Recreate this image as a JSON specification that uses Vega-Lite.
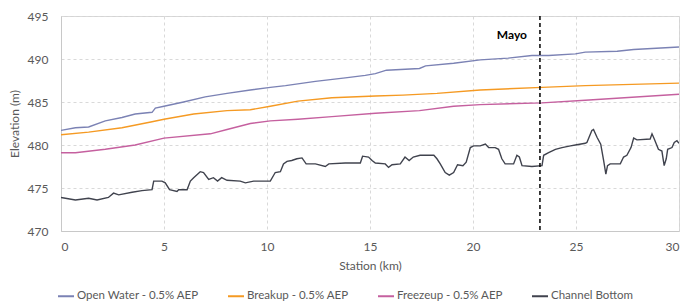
{
  "$schema": "https://vega.github.io/schema/vega-lite/v6.json",
  "width": 618,
  "height": 215,
  "autosize": {"type": "none"},
  "padding": {"left": 61, "top": 16, "right": 14, "bottom": 72},
  "config": {
    "font": "Lato",
    "view": {"stroke": "#d4d4d4", "strokeWidth": 1},
    "axis": {
      "domainColor": "#c8c8c8",
      "ticks": false,
      "labelColor": "#595959",
      "labelFontSize": 12,
      "titleColor": "#595959",
      "titleFontSize": 12,
      "titleFontWeight": "normal",
      "gridColor": "#d9d9d9",
      "gridDash": [3, 3],
      "gridWidth": 1
    },
    "legend": {
      "labelColor": "#595959",
      "labelFontSize": 11.5
    }
  },
  "datasets": {
    "lines": [
      {"s": "Open Water - 0.5% AEP", "km": 0, "elev": 481.7},
      {"s": "Open Water - 0.5% AEP", "km": 0.7, "elev": 482.0},
      {"s": "Open Water - 0.5% AEP", "km": 1.34, "elev": 482.1},
      {"s": "Open Water - 0.5% AEP", "km": 2.15, "elev": 482.8},
      {"s": "Open Water - 0.5% AEP", "km": 2.96, "elev": 483.2},
      {"s": "Open Water - 0.5% AEP", "km": 3.6, "elev": 483.6},
      {"s": "Open Water - 0.5% AEP", "km": 4.42, "elev": 483.8},
      {"s": "Open Water - 0.5% AEP", "km": 4.58, "elev": 484.3},
      {"s": "Open Water - 0.5% AEP", "km": 5.0, "elev": 484.5},
      {"s": "Open Water - 0.5% AEP", "km": 5.95, "elev": 485.0},
      {"s": "Open Water - 0.5% AEP", "km": 7.0, "elev": 485.6},
      {"s": "Open Water - 0.5% AEP", "km": 8.06, "elev": 486.0},
      {"s": "Open Water - 0.5% AEP", "km": 9.19, "elev": 486.4},
      {"s": "Open Water - 0.5% AEP", "km": 10.16, "elev": 486.7},
      {"s": "Open Water - 0.5% AEP", "km": 10.9, "elev": 486.9},
      {"s": "Open Water - 0.5% AEP", "km": 12.35, "elev": 487.4},
      {"s": "Open Water - 0.5% AEP", "km": 13.8, "elev": 487.8},
      {"s": "Open Water - 0.5% AEP", "km": 14.77, "elev": 488.1},
      {"s": "Open Water - 0.5% AEP", "km": 15.26, "elev": 488.3},
      {"s": "Open Water - 0.5% AEP", "km": 15.8, "elev": 488.7},
      {"s": "Open Water - 0.5% AEP", "km": 17.4, "elev": 488.9},
      {"s": "Open Water - 0.5% AEP", "km": 17.7, "elev": 489.2},
      {"s": "Open Water - 0.5% AEP", "km": 19.06, "elev": 489.5},
      {"s": "Open Water - 0.5% AEP", "km": 20.35, "elev": 489.9},
      {"s": "Open Water - 0.5% AEP", "km": 21.7, "elev": 490.1},
      {"s": "Open Water - 0.5% AEP", "km": 22.86, "elev": 490.4},
      {"s": "Open Water - 0.5% AEP", "km": 23.67, "elev": 490.4},
      {"s": "Open Water - 0.5% AEP", "km": 24.97, "elev": 490.6},
      {"s": "Open Water - 0.5% AEP", "km": 25.45, "elev": 490.8},
      {"s": "Open Water - 0.5% AEP", "km": 27.0, "elev": 490.9},
      {"s": "Open Water - 0.5% AEP", "km": 27.8, "elev": 491.1},
      {"s": "Open Water - 0.5% AEP", "km": 30.0, "elev": 491.4},
      {"s": "Breakup - 0.5% AEP", "km": 0, "elev": 481.2},
      {"s": "Breakup - 0.5% AEP", "km": 1.34, "elev": 481.5},
      {"s": "Breakup - 0.5% AEP", "km": 2.96, "elev": 482.0},
      {"s": "Breakup - 0.5% AEP", "km": 4.42, "elev": 482.7},
      {"s": "Breakup - 0.5% AEP", "km": 5.0, "elev": 483.0},
      {"s": "Breakup - 0.5% AEP", "km": 6.44, "elev": 483.6},
      {"s": "Breakup - 0.5% AEP", "km": 8.06, "elev": 484.0},
      {"s": "Breakup - 0.5% AEP", "km": 9.19, "elev": 484.1},
      {"s": "Breakup - 0.5% AEP", "km": 10.16, "elev": 484.5},
      {"s": "Breakup - 0.5% AEP", "km": 11.5, "elev": 485.1},
      {"s": "Breakup - 0.5% AEP", "km": 13.15, "elev": 485.5},
      {"s": "Breakup - 0.5% AEP", "km": 15.26, "elev": 485.7},
      {"s": "Breakup - 0.5% AEP", "km": 16.6, "elev": 485.8},
      {"s": "Breakup - 0.5% AEP", "km": 18.25, "elev": 486.0},
      {"s": "Breakup - 0.5% AEP", "km": 20.35, "elev": 486.4},
      {"s": "Breakup - 0.5% AEP", "km": 23.35, "elev": 486.7},
      {"s": "Breakup - 0.5% AEP", "km": 25.45, "elev": 486.9},
      {"s": "Breakup - 0.5% AEP", "km": 30.0, "elev": 487.2},
      {"s": "Freezeup - 0.5% AEP", "km": 0, "elev": 479.1},
      {"s": "Freezeup - 0.5% AEP", "km": 0.7, "elev": 479.1},
      {"s": "Freezeup - 0.5% AEP", "km": 2.15, "elev": 479.5},
      {"s": "Freezeup - 0.5% AEP", "km": 3.6, "elev": 480.0},
      {"s": "Freezeup - 0.5% AEP", "km": 5.0, "elev": 480.8},
      {"s": "Freezeup - 0.5% AEP", "km": 7.25, "elev": 481.3},
      {"s": "Freezeup - 0.5% AEP", "km": 8.06, "elev": 481.8},
      {"s": "Freezeup - 0.5% AEP", "km": 9.19, "elev": 482.5},
      {"s": "Freezeup - 0.5% AEP", "km": 10.16, "elev": 482.8},
      {"s": "Freezeup - 0.5% AEP", "km": 11.5, "elev": 483.0},
      {"s": "Freezeup - 0.5% AEP", "km": 13.15, "elev": 483.3},
      {"s": "Freezeup - 0.5% AEP", "km": 15.26, "elev": 483.7},
      {"s": "Freezeup - 0.5% AEP", "km": 17.4, "elev": 484.0},
      {"s": "Freezeup - 0.5% AEP", "km": 19.06, "elev": 484.5},
      {"s": "Freezeup - 0.5% AEP", "km": 20.35, "elev": 484.7},
      {"s": "Freezeup - 0.5% AEP", "km": 23.35, "elev": 484.9},
      {"s": "Freezeup - 0.5% AEP", "km": 25.45, "elev": 485.2},
      {"s": "Freezeup - 0.5% AEP", "km": 30.0, "elev": 485.9},
      {"s": "Channel Bottom", "km": 0, "elev": 473.9},
      {"s": "Channel Bottom", "km": 0.7, "elev": 473.6},
      {"s": "Channel Bottom", "km": 1.34, "elev": 473.8},
      {"s": "Channel Bottom", "km": 1.75, "elev": 473.6},
      {"s": "Channel Bottom", "km": 2.3, "elev": 473.9},
      {"s": "Channel Bottom", "km": 2.55, "elev": 474.4},
      {"s": "Channel Bottom", "km": 2.8, "elev": 474.2},
      {"s": "Channel Bottom", "km": 3.45, "elev": 474.5},
      {"s": "Channel Bottom", "km": 3.93, "elev": 474.7},
      {"s": "Channel Bottom", "km": 4.42, "elev": 474.8},
      {"s": "Channel Bottom", "km": 4.5, "elev": 475.8},
      {"s": "Channel Bottom", "km": 4.9, "elev": 475.8},
      {"s": "Channel Bottom", "km": 5.06, "elev": 475.6},
      {"s": "Channel Bottom", "km": 5.27, "elev": 474.8},
      {"s": "Channel Bottom", "km": 5.63, "elev": 474.6},
      {"s": "Channel Bottom", "km": 5.71, "elev": 474.8},
      {"s": "Channel Bottom", "km": 6.12, "elev": 474.8},
      {"s": "Channel Bottom", "km": 6.28, "elev": 475.8},
      {"s": "Channel Bottom", "km": 6.44, "elev": 476.2},
      {"s": "Channel Bottom", "km": 6.76, "elev": 476.9},
      {"s": "Channel Bottom", "km": 6.92, "elev": 476.8},
      {"s": "Channel Bottom", "km": 7.17, "elev": 476.0},
      {"s": "Channel Bottom", "km": 7.4, "elev": 476.2},
      {"s": "Channel Bottom", "km": 7.6, "elev": 475.8},
      {"s": "Channel Bottom", "km": 7.8, "elev": 476.2},
      {"s": "Channel Bottom", "km": 8.06, "elev": 475.9},
      {"s": "Channel Bottom", "km": 8.7, "elev": 475.8},
      {"s": "Channel Bottom", "km": 8.95, "elev": 475.6},
      {"s": "Channel Bottom", "km": 9.35, "elev": 475.8},
      {"s": "Channel Bottom", "km": 10.16, "elev": 475.8},
      {"s": "Channel Bottom", "km": 10.4, "elev": 476.8},
      {"s": "Channel Bottom", "km": 10.65, "elev": 476.9},
      {"s": "Channel Bottom", "km": 10.8, "elev": 477.8},
      {"s": "Channel Bottom", "km": 10.97, "elev": 478.1},
      {"s": "Channel Bottom", "km": 11.2, "elev": 478.2},
      {"s": "Channel Bottom", "km": 11.45, "elev": 478.4},
      {"s": "Channel Bottom", "km": 11.7, "elev": 478.5},
      {"s": "Channel Bottom", "km": 11.9, "elev": 477.8},
      {"s": "Channel Bottom", "km": 12.35, "elev": 477.8},
      {"s": "Channel Bottom", "km": 12.83, "elev": 477.5},
      {"s": "Channel Bottom", "km": 13.0, "elev": 477.8},
      {"s": "Channel Bottom", "km": 13.8, "elev": 477.9},
      {"s": "Channel Bottom", "km": 14.53, "elev": 477.9},
      {"s": "Channel Bottom", "km": 14.64, "elev": 478.7},
      {"s": "Channel Bottom", "km": 14.93, "elev": 478.6},
      {"s": "Channel Bottom", "km": 15.1, "elev": 478.2},
      {"s": "Channel Bottom", "km": 15.26, "elev": 477.9},
      {"s": "Channel Bottom", "km": 15.74, "elev": 477.8},
      {"s": "Channel Bottom", "km": 15.9, "elev": 477.4},
      {"s": "Channel Bottom", "km": 16.07, "elev": 477.7},
      {"s": "Channel Bottom", "km": 16.47, "elev": 477.8},
      {"s": "Channel Bottom", "km": 16.7, "elev": 478.6},
      {"s": "Channel Bottom", "km": 16.9, "elev": 478.2},
      {"s": "Channel Bottom", "km": 17.1, "elev": 478.6},
      {"s": "Channel Bottom", "km": 17.43, "elev": 478.8},
      {"s": "Channel Bottom", "km": 18.1, "elev": 478.8},
      {"s": "Channel Bottom", "km": 18.25, "elev": 478.4},
      {"s": "Channel Bottom", "km": 18.41, "elev": 477.8},
      {"s": "Channel Bottom", "km": 18.65, "elev": 476.8},
      {"s": "Channel Bottom", "km": 18.85, "elev": 476.5},
      {"s": "Channel Bottom", "km": 19.06, "elev": 476.8},
      {"s": "Channel Bottom", "km": 19.25, "elev": 477.7},
      {"s": "Channel Bottom", "km": 19.51, "elev": 477.6},
      {"s": "Channel Bottom", "km": 19.67, "elev": 478.0},
      {"s": "Channel Bottom", "km": 19.87, "elev": 479.7},
      {"s": "Channel Bottom", "km": 20.03, "elev": 479.9},
      {"s": "Channel Bottom", "km": 20.35, "elev": 479.9},
      {"s": "Channel Bottom", "km": 20.6, "elev": 480.1},
      {"s": "Channel Bottom", "km": 20.76, "elev": 479.7},
      {"s": "Channel Bottom", "km": 21.08, "elev": 479.7},
      {"s": "Channel Bottom", "km": 21.24, "elev": 479.5},
      {"s": "Channel Bottom", "km": 21.4, "elev": 478.4},
      {"s": "Channel Bottom", "km": 21.56, "elev": 477.8},
      {"s": "Channel Bottom", "km": 21.97, "elev": 477.8},
      {"s": "Channel Bottom", "km": 22.13, "elev": 478.8},
      {"s": "Channel Bottom", "km": 22.25, "elev": 478.6},
      {"s": "Channel Bottom", "km": 22.38, "elev": 477.6},
      {"s": "Channel Bottom", "km": 22.86, "elev": 477.5},
      {"s": "Channel Bottom", "km": 23.35, "elev": 477.6},
      {"s": "Channel Bottom", "km": 23.43, "elev": 478.8},
      {"s": "Channel Bottom", "km": 23.67, "elev": 479.1},
      {"s": "Channel Bottom", "km": 24.0, "elev": 479.5},
      {"s": "Channel Bottom", "km": 24.32, "elev": 479.7},
      {"s": "Channel Bottom", "km": 24.73, "elev": 479.9},
      {"s": "Channel Bottom", "km": 24.97, "elev": 480.0},
      {"s": "Channel Bottom", "km": 25.45, "elev": 480.2},
      {"s": "Channel Bottom", "km": 25.53, "elev": 480.3},
      {"s": "Channel Bottom", "km": 25.77, "elev": 481.7},
      {"s": "Channel Bottom", "km": 25.85, "elev": 481.8},
      {"s": "Channel Bottom", "km": 26.02, "elev": 480.9},
      {"s": "Channel Bottom", "km": 26.2, "elev": 480.1},
      {"s": "Channel Bottom", "km": 26.34, "elev": 478.2},
      {"s": "Channel Bottom", "km": 26.45, "elev": 476.6},
      {"s": "Channel Bottom", "km": 26.53, "elev": 477.6},
      {"s": "Channel Bottom", "km": 26.66, "elev": 477.8},
      {"s": "Channel Bottom", "km": 27.15, "elev": 477.8},
      {"s": "Channel Bottom", "km": 27.31, "elev": 478.6},
      {"s": "Channel Bottom", "km": 27.47, "elev": 478.8},
      {"s": "Channel Bottom", "km": 27.67, "elev": 479.7},
      {"s": "Channel Bottom", "km": 27.8, "elev": 480.8},
      {"s": "Channel Bottom", "km": 27.96, "elev": 480.6},
      {"s": "Channel Bottom", "km": 28.6, "elev": 480.7},
      {"s": "Channel Bottom", "km": 28.69, "elev": 481.3},
      {"s": "Channel Bottom", "km": 28.8, "elev": 480.7},
      {"s": "Channel Bottom", "km": 29.0, "elev": 479.5},
      {"s": "Channel Bottom", "km": 29.17, "elev": 479.3},
      {"s": "Channel Bottom", "km": 29.28, "elev": 477.6},
      {"s": "Channel Bottom", "km": 29.38, "elev": 478.4},
      {"s": "Channel Bottom", "km": 29.45, "elev": 479.5},
      {"s": "Channel Bottom", "km": 29.66, "elev": 479.7},
      {"s": "Channel Bottom", "km": 29.77, "elev": 480.3},
      {"s": "Channel Bottom", "km": 29.9, "elev": 480.5},
      {"s": "Channel Bottom", "km": 30.0, "elev": 480.2}
    ],
    "marker": [
      {"km": 23.25, "elev": 492.8, "label": "Mayo"}
    ]
  },
  "layer": [
    {
      "data": {"name": "lines"},
      "mark": {"type": "line", "strokeWidth": 1.4, "clip": true},
      "encoding": {
        "x": {
          "field": "km", "type": "quantitative",
          "scale": {"domain": [0, 30], "nice": false},
          "axis": {"values": [0, 5, 10, 15, 20, 25, 30], "title": "Station (km)", "labelPadding": 10, "titlePadding": 8, "grid": true}
        },
        "y": {
          "field": "elev", "type": "quantitative",
          "scale": {"domain": [470, 495], "nice": false, "zero": false},
          "axis": {"values": [470, 475, 480, 485, 490, 495], "title": "Elevation (m)", "labelPadding": 13, "titlePadding": 6, "grid": true}
        },
        "color": {
          "field": "s", "type": "nominal",
          "scale": {
            "domain": ["Open Water - 0.5% AEP", "Breakup - 0.5% AEP", "Freezeup - 0.5% AEP", "Channel Bottom"],
            "range": ["#7b82b4", "#f59a23", "#c5609f", "#40434e"]
          },
          "legend": {
            "title": null,
            "orient": "none",
            "direction": "horizontal",
            "legendX": -4,
            "legendY": 271,
            "symbolType": "stroke",
            "symbolSize": 256,
            "symbolStrokeWidth": 2,
            "labelOffset": 2,
            "columnPadding": 25
          }
        },
        "detail": {"field": "s"}
      }
    },
    {
      "data": {"name": "marker"},
      "mark": {"type": "rule", "color": "#000000", "strokeWidth": 1.5, "strokeDash": [4, 3]},
      "encoding": {
        "x": {"field": "km", "type": "quantitative"}
      }
    },
    {
      "data": {"name": "marker"},
      "mark": {"type": "text", "align": "right", "baseline": "middle", "dx": -13, "fontWeight": "bold", "fontSize": 12, "color": "#000000"},
      "encoding": {
        "x": {"field": "km", "type": "quantitative"},
        "y": {"field": "elev", "type": "quantitative"},
        "text": {"field": "label"}
      }
    }
  ]
}
